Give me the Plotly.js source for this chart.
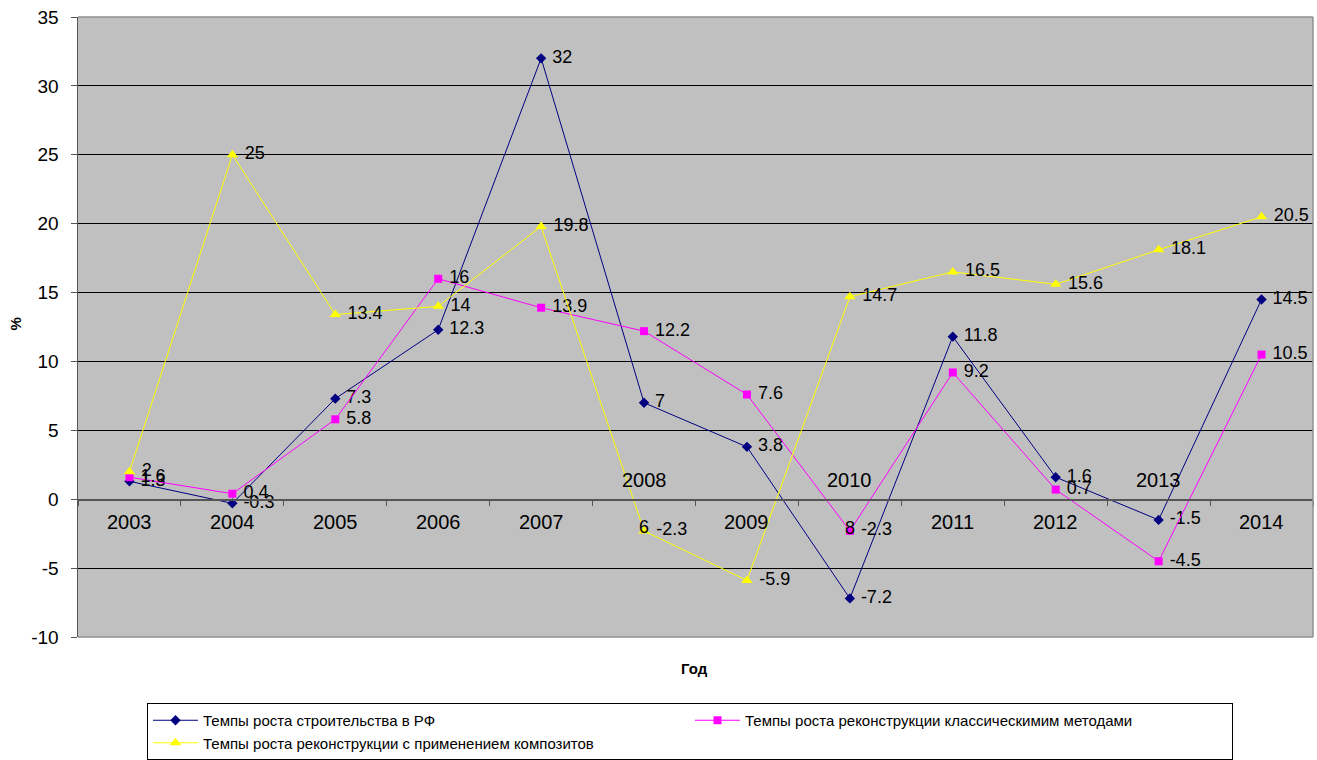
<!DOCTYPE html>
<html>
<head>
<meta charset="utf-8">
<script src="https://cdn.plot.ly/plotly-3.0.1.min.js"></script>
<style>html,body{margin:0;padding:0;background:#fff;}#chart{width:1317px;height:760px;}</style>
</head>
<body>
<div id="chart"></div>
<script>
const years = ['2003','2004','2005','2006','2007','2008','2009','2010','2011','2012','2013','2014'];
const constructionRF = [1.3, -0.3, 7.3, 12.3, 32, 7, 3.8, -7.2, 11.8, 1.6, -1.5, 14.5];
const reconClassic = [1.6, 0.4, 5.8, 16, 13.9, 12.2, 7.6, -2.3, 9.2, 0.7, -4.5, 10.5];
const reconComposite = [2, 25, 13.4, 14, 19.8, -2.3, -5.9, 14.7, 16.5, 15.6, 18.1, 20.5];
const seriesNames = [
  'Темпы роста строительства в РФ',
  'Темпы роста реконструкции классическимим методами',
  'Темпы роста реконструкции с применением композитов'
];
const yTicks = [-10, -5, 0, 5, 10, 15, 20, 25, 30, 35];
const yearsAboveAxis = ['2008', '2010', '2013'];
const xTitle = 'Год';
const yTitle = '%';

const FONT = 'Liberation Sans, Arial, sans-serif';
const idx = years.map((_, i) => i);
const fmt = v => '\u00a0' + String(v);

function series(name, vals, color, symbol, size) {
  return {
    type: 'scatter', mode: 'lines+markers+text', name: name,
    x: idx, y: vals, text: vals.map(fmt),
    textposition: 'middle right',
    textfont: {family: FONT, size: 18, color: '#000'},
    line: {color: color, width: 1},
    marker: {color: color, symbol: symbol, size: size},
    cliponaxis: false
  };
}

const traces = [
  series(seriesNames[0], constructionRF, '#000080', 'diamond', 8),
  series(seriesNames[1], reconClassic, '#FF00FF', 'square', 8),
  series(seriesNames[2], reconComposite, '#FFFF00', 'triangle-up', 10)
];

const annotations = years.map((y, i) => ({
  x: i, y: 0, xref: 'x', yref: 'y', text: y, showarrow: false,
  yshift: yearsAboveAxis.includes(y) ? 19 : -23,
  font: {family: FONT, size: 20, color: '#000'}
}));
// stray overlapping label fragments visible in the reference
annotations.push({x: years.indexOf('2008'), y: reconComposite[years.indexOf('2008')], xref: 'x', yref: 'y',
  text: '6', showarrow: false, yshift: 4, font: {family: FONT, size: 18, color: '#000'}});
annotations.push({x: years.indexOf('2010'), y: reconClassic[years.indexOf('2010')], xref: 'x', yref: 'y',
  text: '8', showarrow: false, yshift: 3, font: {family: FONT, size: 18, color: '#000'}});
annotations.push({x: 0.4993, y: 0, xref: 'paper', yref: 'paper', yanchor: 'middle', yshift: -31,
  text: '<b>' + xTitle + '</b>', showarrow: false, font: {family: FONT, size: 15, color: '#000'}});
annotations.push({x: 0, y: 0.5, xref: 'paper', yref: 'paper', xshift: -74, yshift: 3, textangle: -90,
  text: '<b>' + yTitle + '</b>', showarrow: false, font: {family: FONT, size: 15, color: '#000'}});

const layout = {
  width: 1317, height: 760,
  margin: {l: 78, r: 4, t: 17, b: 123, autoexpand: false},
  paper_bgcolor: '#ffffff', plot_bgcolor: '#C0C0C0',
  font: {family: FONT, size: 16, color: '#000'},
  showlegend: true,
  legend: {
    orientation: 'h', xref: 'container', yref: 'container',
    x: 147 / 1317, xanchor: 'left', y: 1 - 703 / 760, yanchor: 'top',
    bordercolor: '#000', borderwidth: 1, bgcolor: '#fff',
    entrywidth: 482, entrywidthmode: 'pixels',
    font: {family: FONT, size: 15, color: '#000'},
    itemwidth: 45, tracegroupgap: 0
  },
  xaxis: {
    range: [-0.5, 11.5], anchor: 'free', position: 10 / 45,
    showgrid: false, zeroline: false, showline: true, linecolor: '#555', linewidth: 1.5,
    tickmode: 'array', tickvals: idx.concat([idx.length]).map(v => v - 0.5),
    ticks: 'outside', ticklen: 5, tickcolor: '#555', showticklabels: false, fixedrange: true
  },
  yaxis: {
    range: [-10, 35], tickmode: 'array', tickvals: yTicks, ticktext: yTicks.map(String),
    showgrid: true, gridcolor: '#000', gridwidth: 1, zeroline: false,
    showline: true, linecolor: '#555', linewidth: 1.5,
    ticks: 'outside', ticklen: 6, tickcolor: '#555', ticklabelstandoff: 8,
    tickfont: {family: FONT, size: 19, color: '#000'}, fixedrange: true
  },
  shapes: [
    {type: 'line', xref: 'paper', yref: 'paper', x0: 0, x1: 1, y0: 1, y1: 1, line: {color: '#909090', width: 1.5}},
    {type: 'line', xref: 'paper', yref: 'paper', x0: 1, x1: 1, y0: 0, y1: 1, line: {color: '#909090', width: 1.5}},
    {type: 'line', xref: 'paper', yref: 'paper', x0: 0, x1: 1, y0: 0, y1: 0, line: {color: '#909090', width: 1.5}}
  ],
  annotations: annotations
};

Plotly.newPlot('chart', traces, layout, {displayModeBar: false, staticPlot: true});
</script>
</body>
</html>
